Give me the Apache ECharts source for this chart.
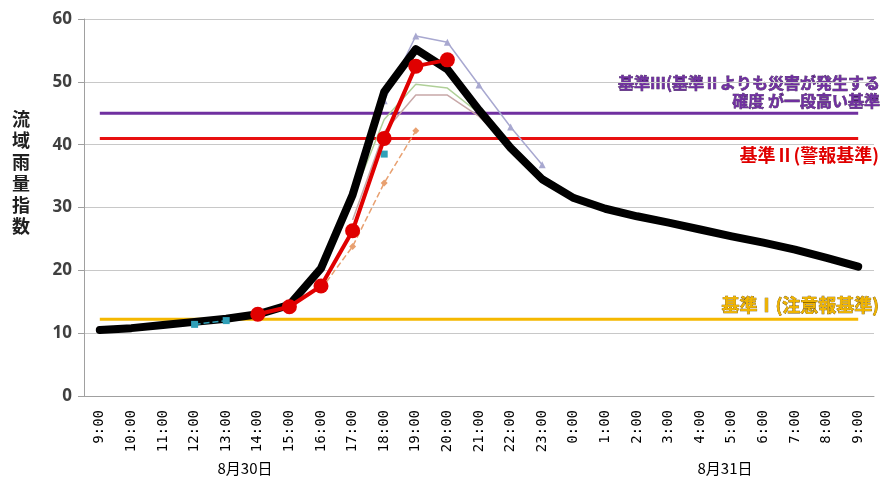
<!DOCTYPE html>
<html><head><meta charset="utf-8">
<script src="https://cdn.jsdelivr.net/npm/echarts@6/dist/echarts.min.js"></script>
<style>html,body{margin:0;padding:0;background:#fff}#c{width:882px;height:485px}</style>
</head><body><div id="c"></div>
<script>
var categories = ['9:00','10:00','11:00','12:00','13:00','14:00','15:00','16:00','17:00','18:00','19:00','20:00','21:00','22:00','23:00','0:00','1:00','2:00','3:00','4:00','5:00','6:00','7:00','8:00','9:00'];
var yTicks = [0,10,20,30,40,50,60];
var level3 = 45, level2 = 41, level1 = 12.2;
var mainIndex = [10.5,10.8,11.3,11.8,12.3,13.0,14.5,20.3,32.0,48.4,55.2,52.0,45.5,39.5,34.5,31.5,29.8,28.6,27.6,26.5,25.4,24.4,23.3,22.0,20.6];
var actual = [null,null,null,null,null,13.0,14.2,17.5,26.3,41.0,52.5,53.5,null,null,null,null,null,null,null,null,null,null,null,null,null];
var fcLavender = [null,null,null,null,null,null,null,20.5,33.0,47.0,57.3,56.3,49.5,42.8,36.8,null,null,null,null,null,null,null,null,null,null];
var fcGreen = [null,null,null,null,null,null,null,20.0,31.5,44.0,49.6,49.0,45.0,39.0,null,null,null,null,null,null,null,null,null,null,null];
var fcRose = [null,null,null,null,null,null,null,null,28.0,42.0,47.9,47.9,44.5,39.5,null,null,null,null,null,null,null,null,null,null,null];
var fcOrange = [null,null,null,null,null,null,null,17.0,23.8,33.9,42.2,null,null,null,null,null,null,null,null,null,null,null,null,null,null];
var fcTeal = [null,null,null,11.4,12.0,null,null,null,null,38.5,null,null,null,null,null,null,null,null,null,null,null,null,null,null,null];
var yName = ['流','域','雨','量','指','数'];
var dateLabels = ['8月30日','8月31日'];
var noteL3a = '基準Ⅲ(基準Ⅱよりも災害が発生する';
var noteL3b = '確度 が一段高い基準';
var noteL2 = '基準Ⅱ(警報基準)';
var noteL1 = '基準Ⅰ(注意報基準)';

function constLine(v){ return categories.map(function(){return v;}); }

var chart = echarts.init(document.getElementById('c'), null, {renderer:'canvas'});
var jp = '"Noto Sans CJK JP", sans-serif';
chart.setOption({
  animation:false,
  grid:{left:84,right:8,top:19,bottom:89},
  xAxis:{type:'category',data:categories,boundaryGap:true,
    axisLine:{lineStyle:{color:'#a0a0a0',width:1}},
    axisTick:{show:false},
    axisLabel:{rotate:90,interval:0,fontFamily:'"DejaVu Sans Mono", monospace',fontSize:14,color:'#000',margin:14}},
  yAxis:{type:'value',min:0,max:60,interval:10,
    axisLine:{show:true,lineStyle:{color:'#a0a0a0'}},
    axisTick:{show:true,length:6,lineStyle:{color:'#a0a0a0'}},
    splitLine:{lineStyle:{color:'#c8c8c8',width:1}},
    axisLabel:{fontFamily:'"Open Sans", sans-serif',fontWeight:'bold',fontSize:17,color:'#404040',margin:12,
      formatter:function(v){return yTicks.indexOf(v)>=0?String(v):'';}}},
  series:[
    {type:'line',data:constLine(level3),symbol:'none',lineStyle:{color:'#7030a0',width:3},z:1},
    {type:'line',data:constLine(level2),symbol:'none',lineStyle:{color:'#e81010',width:3},z:1},
    {type:'line',data:constLine(level1),symbol:'none',lineStyle:{color:'#f5b800',width:3},z:1},
    {type:'line',data:fcLavender,symbol:'triangle',symbolSize:7,itemStyle:{color:'#a8a8d0'},lineStyle:{color:'#a8a8d0',width:1.5},z:2},
    {type:'line',data:fcGreen,symbol:'none',lineStyle:{color:'#b0d098',width:1.5},z:2},
    {type:'line',data:fcRose,symbol:'none',lineStyle:{color:'#c8a8a8',width:1.5},z:2},
    {type:'line',data:fcOrange,symbol:'diamond',symbolSize:7,itemStyle:{color:'#e8a070'},lineStyle:{color:'#e8a070',width:1.5,type:'dashed'},z:2},
    {type:'line',data:fcTeal,symbol:'rect',symbolSize:7,itemStyle:{color:'#30a0b8'},lineStyle:{color:'#30a0b8',width:1.5,type:'dashed'},z:4},
    {type:'line',data:mainIndex,symbol:'none',smooth:false,lineStyle:{color:'#000',width:8,cap:'round',join:'round'},z:3},
    {type:'line',data:actual,symbol:'circle',symbolSize:15,itemStyle:{color:'#e00000'},lineStyle:{color:'#e00000',width:4},z:5}
  ],
  graphic:[
    {type:'text',left:12,top:108,style:{text:yName.join('\n'),font:'bold 18px '+jp,fill:'#202020',lineHeight:21.5}},
    {type:'text',x:245,y:468,style:{text:dateLabels[0],font:'15px '+jp,fill:'#000',align:'center',verticalAlign:'middle'}},
    {type:'text',x:725,y:468,style:{text:dateLabels[1],font:'15px '+jp,fill:'#000',align:'center',verticalAlign:'middle'}},
    {type:'text',x:880,y:83,style:{text:noteL3a,font:'bold 16px '+jp,fill:'#7030a0',stroke:'#3a2050',lineWidth:0.6,align:'right',verticalAlign:'middle'}},
    {type:'text',x:880,y:101,style:{text:noteL3b,font:'bold 16px '+jp,fill:'#7030a0',stroke:'#3a2050',lineWidth:0.6,align:'right',verticalAlign:'middle'}},
    {type:'text',x:879,y:155,style:{text:noteL2,font:'bold 18px '+jp,fill:'#e00000',align:'right',verticalAlign:'middle'}},
    {type:'text',x:879,y:305,style:{text:noteL1,font:'bold 18px '+jp,fill:'#f0b400',stroke:'#705000',lineWidth:0.7,align:'right',verticalAlign:'middle'}}
  ]
});
</script></body></html>
